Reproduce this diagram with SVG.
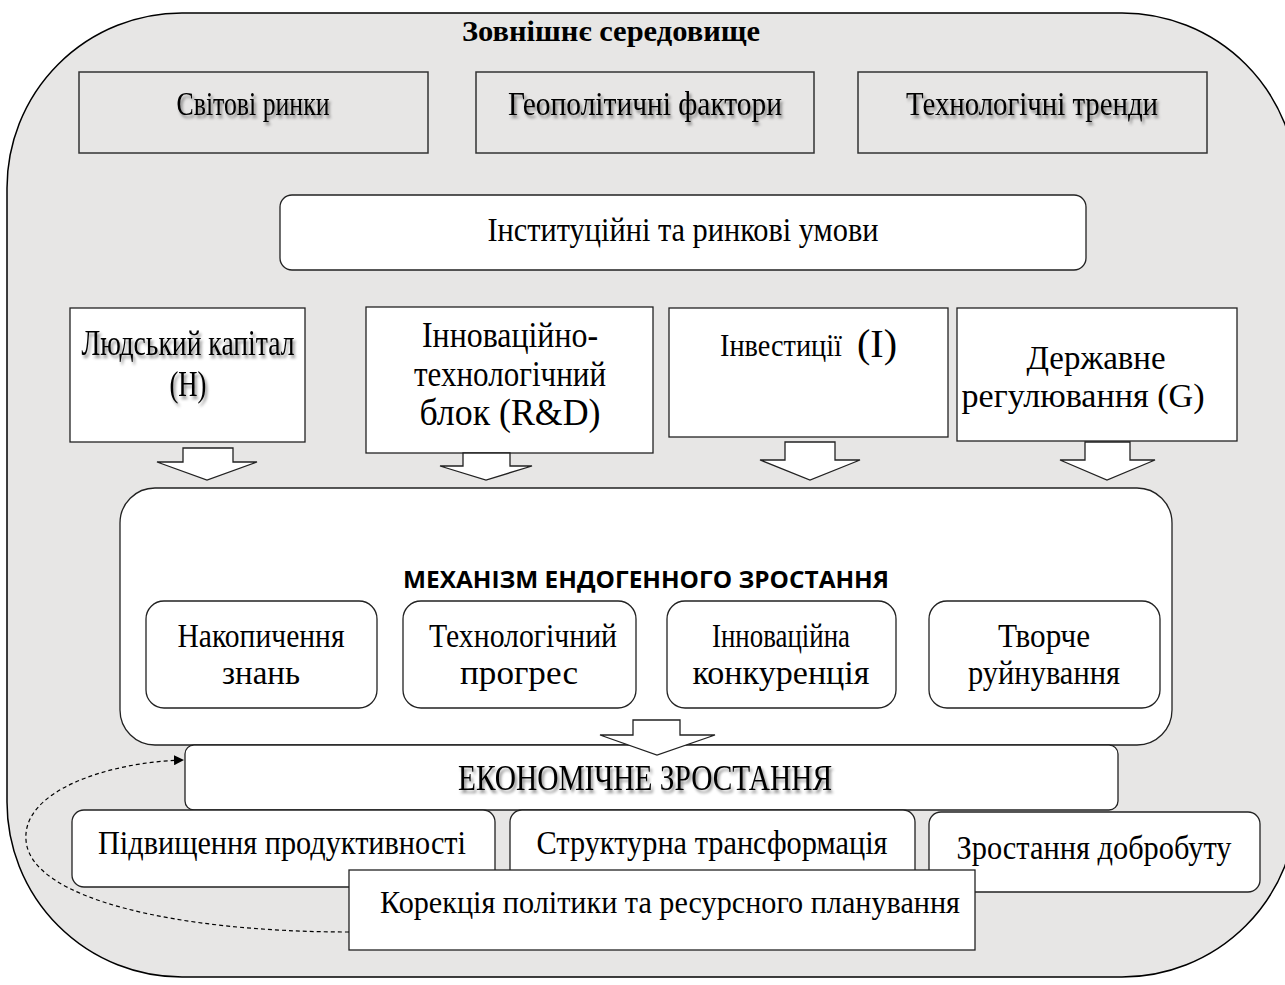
<svg xmlns="http://www.w3.org/2000/svg" width="1285" height="985" viewBox="0 0 1285 985">
<defs>
<filter id="sh" x="-10%" y="-30%" width="120%" height="160%">
<feDropShadow dx="2" dy="3" stdDeviation="1.6" flood-color="#000" flood-opacity="0.45"/>
</filter>
<marker id="ah" markerWidth="10" markerHeight="10" refX="9" refY="5" orient="auto" markerUnits="userSpaceOnUse">
<path d="M0,0 L10,5 L0,10 Z" fill="#000"/>
</marker>
</defs>
<style>
.t{font-family:"Liberation Serif","Times New Roman",serif;fill:#000;text-anchor:middle}
.box{fill:#fff;stroke:#222;stroke-width:1.3}
.gbox{fill:none;stroke:#333;stroke-width:1.5}
.arr{fill:#fff;stroke:#222;stroke-width:1.3}
</style>
<rect width="1285" height="985" fill="#fff"/>
<g id="env">
<rect x="7" y="13" width="1290" height="964" rx="175" ry="175" fill="#e7e6e5" stroke="#000" stroke-width="1.5"/>
<text class="t" x="611" y="41" font-size="30" font-weight="bold" textLength="298" lengthAdjust="spacingAndGlyphs">Зовнішнє середовище</text>
</g>
<g id="markets">
<rect class="gbox" x="79" y="72" width="349" height="81"/>
<text class="t" x="253" y="115" font-size="33" filter="url(#sh)" textLength="153" lengthAdjust="spacingAndGlyphs">Світові ринки</text>
</g>
<g id="geo">
<rect class="gbox" x="476" y="72" width="338" height="81"/>
<text class="t" x="645" y="115" font-size="33" filter="url(#sh)" textLength="274" lengthAdjust="spacingAndGlyphs">Геополітичні фактори</text>
</g>
<g id="tech">
<rect class="gbox" x="858" y="72" width="349" height="81"/>
<text class="t" x="1032" y="115" font-size="33" filter="url(#sh)" textLength="252" lengthAdjust="spacingAndGlyphs">Технологічні тренди</text>
</g>
<g id="inst">
<rect class="box" x="280" y="195" width="806" height="75" rx="12"/>
<text class="t" x="683" y="241" font-size="33" textLength="391" lengthAdjust="spacingAndGlyphs">Інституційні та ринкові умови</text>
</g>
<g id="human">
<rect class="box" x="70" y="308" width="235" height="134"/>
<text class="t" x="188" y="355" font-size="36" filter="url(#sh)" textLength="213" lengthAdjust="spacingAndGlyphs">Людський капітал</text>
<text class="t" x="188" y="396" font-size="36" filter="url(#sh)" textLength="37" lengthAdjust="spacingAndGlyphs">(H)</text>
</g>
<g id="rd">
<rect class="box" x="366" y="307" width="287" height="146"/>
<text class="t" x="510" y="347" font-size="35" textLength="176" lengthAdjust="spacingAndGlyphs">Інноваційно-</text>
<text class="t" x="510" y="386" font-size="35" textLength="192" lengthAdjust="spacingAndGlyphs">технологічний</text>
<text class="t" x="510" y="425" font-size="37" textLength="181" lengthAdjust="spacingAndGlyphs">блок (R&amp;D)</text>
</g>
<g id="inv">
<rect class="box" x="669" y="308" width="279" height="129"/>
<text class="t" x="781" y="356" font-size="31" textLength="122" lengthAdjust="spacingAndGlyphs">Інвестиції</text>
<text class="t" x="877" y="357" font-size="40" textLength="40" lengthAdjust="spacingAndGlyphs">(I)</text>
</g>
<g id="gov">
<rect class="box" x="957" y="308" width="280" height="133"/>
<text class="t" x="1096" y="369" font-size="34" textLength="139" lengthAdjust="spacingAndGlyphs">Державне</text>
<text class="t" x="1083" y="407" font-size="34" textLength="243" lengthAdjust="spacingAndGlyphs">регулювання (G)</text>
</g>
<g id="mech">
<rect class="box" x="120" y="488" width="1052" height="257" rx="35"/>
<text x="646" y="588" font-family="'Open Sans','Liberation Sans',sans-serif" font-weight="bold" font-size="24" text-anchor="middle" textLength="486" lengthAdjust="spacingAndGlyphs">МЕХАНІЗМ ЕНДОГЕННОГО ЗРОСТАННЯ</text>
</g>
<g id="know">
<rect class="box" x="146" y="601" width="231" height="107" rx="18"/>
<text class="t" x="261" y="647" font-size="33" textLength="167" lengthAdjust="spacingAndGlyphs">Накопичення</text>
<text class="t" x="261" y="684" font-size="33" textLength="78" lengthAdjust="spacingAndGlyphs">знань</text>
</g>
<g id="progress">
<rect class="box" x="403" y="601" width="233" height="107" rx="18"/>
<text class="t" x="523" y="647" font-size="33" textLength="188" lengthAdjust="spacingAndGlyphs">Технологічний</text>
<text class="t" x="519" y="684" font-size="33" textLength="118" lengthAdjust="spacingAndGlyphs">прогрес</text>
</g>
<g id="compet">
<rect class="box" x="667" y="601" width="229" height="107" rx="18"/>
<text class="t" x="781" y="647" font-size="33" textLength="138" lengthAdjust="spacingAndGlyphs">Інноваційна</text>
<text class="t" x="781" y="684" font-size="33" textLength="177" lengthAdjust="spacingAndGlyphs">конкуренція</text>
</g>
<g id="destr">
<rect class="box" x="929" y="601" width="231" height="107" rx="18"/>
<text class="t" x="1044" y="647" font-size="33" textLength="92" lengthAdjust="spacingAndGlyphs">Творче</text>
<text class="t" x="1044" y="684" font-size="33" textLength="152" lengthAdjust="spacingAndGlyphs">руйнування</text>
</g>
<g id="growth">
<rect class="box" x="185" y="745" width="933" height="65" rx="9"/>
<text class="t" x="645" y="790" font-size="35" filter="url(#sh)" textLength="374" lengthAdjust="spacingAndGlyphs">ЕКОНОМІЧНЕ ЗРОСТАННЯ</text>
</g>
<g id="prod">
<rect class="box" x="72" y="810" width="423" height="77" rx="12"/>
<text class="t" x="282" y="854" font-size="33" textLength="368" lengthAdjust="spacingAndGlyphs">Підвищення продуктивності</text>
</g>
<g id="struct">
<rect class="box" x="510" y="810" width="405" height="77" rx="12"/>
<text class="t" x="712" y="854" font-size="33" textLength="351" lengthAdjust="spacingAndGlyphs">Структурна трансформація</text>
</g>
<g id="welfare">
<rect class="box" x="929" y="812" width="331" height="80" rx="12"/>
<text class="t" x="1094" y="859" font-size="33" textLength="275" lengthAdjust="spacingAndGlyphs">Зростання добробуту</text>
</g>
<g id="policy">
<rect class="box" x="349" y="870" width="626" height="80"/>
<text class="t" x="670" y="913" font-size="32" textLength="580" lengthAdjust="spacingAndGlyphs">Корекція політики та ресурсного планування</text>
</g>
<g id="connectors">
<path class="arr" d="M183,448 H233 V462 H257 L207,480 L157,462 H183 Z"/>
<path class="arr" d="M463,453 H510 V466 H532 L486,480 L440,466 H463 Z"/>
<path class="arr" d="M785,442 H835 V460 H860 L810,480 L760,460 H785 Z"/>
<path class="arr" d="M1085,442 H1130 V460 H1155 L1107,480 L1060,460 H1085 Z"/>
<path class="arr" d="M633,720 H680 V735 H715 L657,755 L600,735 H633 Z"/>
<path d="M349,932 C 180,932 30,900 26,840 C 22,790 110,762 183,760" fill="none" stroke="#000" stroke-width="1.2" stroke-dasharray="4,3" marker-end="url(#ah)"/>
</g>
</svg>
